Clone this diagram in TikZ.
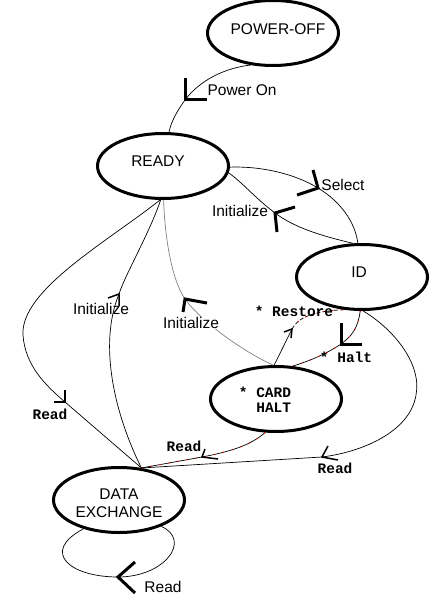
\documentclass[tikz,border=0pt]{standalone}
\usepackage{fontspec}
\setmainfont{Liberation Sans}
\newfontfamily\simfont{Liberation Mono}
\usetikzlibrary{shapes.geometric}

\begin{document}
\begin{tikzpicture}[x=1pt,y=-1pt,
    state/.style={ellipse,draw,line width=3pt,minimum width=131pt,minimum height=65pt,inner sep=0pt},
    edge/.style={line width=0.7pt},
    reddot/.style={postaction={draw,red,line width=0.9pt,dash pattern=on 1.2pt off 8pt}},
    barb/.style={line width=3pt},
    thinbarb/.style={line width=1.5pt},
    lab/.style={font=\fontsize{15.5}{18}\selectfont,inner sep=0pt,align=center},
    monolab/.style={font=\simfont\bfseries\fontsize{14.5}{15}\selectfont,inner sep=0pt,align=left}
  ]
    \useasboundingbox (0,0) rectangle (443,607);

    % states
    \node[state,label={[lab,xshift=5pt,yshift=4pt]center:POWER-OFF}] (poweroff) at (273,33) {};
    \node[state,label={[lab,xshift=-5pt,yshift=5pt]center:READY}] (ready) at (163,166) {};
    \node[state,label={[lab,xshift=-3pt,yshift=5pt]center:ID}] (id) at (362,277) {};
    \node[state,label={[monolab,xshift=-11pt,yshift=-1pt]center:*~CARD\\\phantom{*~}HALT}] (cardhalt) at (276,399) {};
    \node[state,label={[lab,yshift=-3pt]center:DATA\\EXCHANGE}] (dataex) at (119,500) {};

    % corners of the marks on the transitions
    \coordinate (on) at (185,100);
    \coordinate (sel) at (318,188);
    \coordinate (ini1) at (275,213);
    \coordinate (ini2) at (119,294);
    \coordinate (ini3) at (185,299);
    \coordinate (rst) at (292,329);
    \coordinate (hlt) at (341,344);
    \coordinate (rd1) at (65,402);
    \coordinate (rd2) at (202,457);
    \coordinate (rd3) at (322,457);
    \coordinate (rd4) at (118,577);

    % transitions
    \draw[edge] (poweroff.235) .. controls (225,68) and (200,80) .. (on) .. controls (177,111) and (171,122) .. (ready.80);
    \draw[edge] (ready.-1) .. controls (262,166) and (295,174) .. (sel) .. controls (341,202) and (355,222) .. (id.97);
    \draw[edge] (id.105) .. controls (322,236) and (295,228) .. (ini1) .. controls (255,198) and (242,182) .. (ready.-6);
    \draw[edge] (ready.265) .. controls (110,240) and (20,290) .. (23,335) .. controls (25,365) and (45,385) .. (rd1) -- (dataex.55);
    \draw[edge] (dataex.55) .. controls (115,415) and (98,345) .. (ini2) .. controls (125,275) and (150,232) .. (ready.266);
    \draw[edge,gray] (cardhalt.95) .. controls (240,350) and (200,320) .. (ini3) .. controls (172,280) and (165,240) .. (ready.271);
    \draw[edge] (cardhalt.93) -- (rst);
    \draw[edge,reddot,dash pattern=on 4pt off 2pt] (rst) .. controls (298,318) and (312,311) .. (id.-119);
    \draw[edge,reddot] (id.-93) .. controls (358,328) and (352,336) .. (hlt) .. controls (325,355) and (306,362) .. (cardhalt.63);
    \draw[edge] (id.-88) .. controls (395,330) and (422,365) .. (416,395) .. controls (410,432) and (362,452) .. (rd3) -- (dataex.55);
    \draw[edge,reddot] (cardhalt.-108) .. controls (250,446) and (228,452) .. (rd2) -- (dataex.55);
    \draw[edge] (dataex.-32) .. controls (192,540) and (165,577) .. (rd4) .. controls (70,577) and (40,552) .. (dataex.-141);

    % marks
    \draw[barb] (on) ++(0,-22) -- (on) -- ++(22,0);
    \draw[barb] (sel) ++(-5,-18) -- (sel) -- ++(-21,7);
    \draw[barb] (ini1) ++(20,-6) -- (ini1) -- ++(2,19);
    \draw[thinbarb] (ini2) ++(-11,4) -- (ini2) -- ++(0,12);
    \draw[barb] (ini3) ++(22,4) -- (ini3) -- ++(-2,13);
    \draw[thinbarb] (rst) ++(-8,3) -- (rst) -- ++(-1,9);
    \draw[barb] (hlt) ++(0,-21) -- (hlt) -- ++(21,0);
    \draw[thinbarb] (rd1) ++(0,-12) -- (rd1) -- ++(-11,0);
    \draw[thinbarb] (rd2) ++(3,-8) -- (rd2) -- ++(16,2);
    \draw[thinbarb] (rd3) ++(6,-11) -- (rd3) -- ++(16,3);
    \draw[barb] (rd4) ++(17,-15) -- (rd4) -- ++(17,16);

    % labels
    \node[lab] (lon) at (242,90) {Power On};
    \node[lab] (lsel) at (343,185) {Select};
    \node[lab] (lini1) at (240,211) {Initialize};
    \node[lab] (lini2) at (101,309) {Initialize};
    \node[lab,fill=white] (lini3) at (191,323) {Initialize};
    \node[monolab] (lrst) at (294,311) {*~Restore};
    \node[monolab] (lhlt) at (346,357) {*~Halt};
    \node[monolab] (lrd1) at (50,414) {Read};
    \node[monolab] (lrd2) at (184,446) {Read};
    \node[monolab] (lrd3) at (335,468) {Read};
    \node[lab] (lrd4) at (163,587) {Read};
  \end{tikzpicture}
\end{document}
